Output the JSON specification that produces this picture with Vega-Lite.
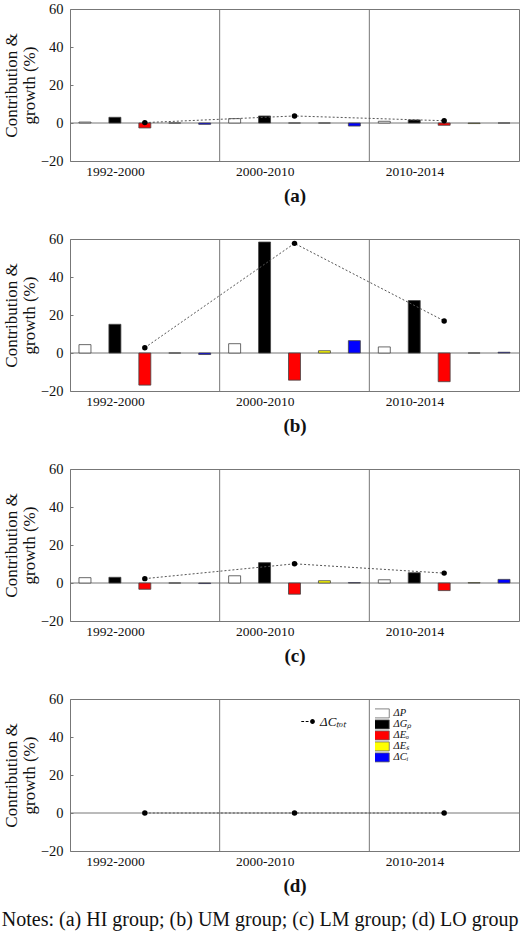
{
  "$schema": "https://vega.github.io/schema/vega-lite/v6.json",
  "padding": {"left": 1, "top": 0, "right": 2, "bottom": 3},
  "background": "white",
  "config": {
    "font": "Liberation Serif",
    "view": {"stroke": "#777", "strokeWidth": 1},
    "axis": {"labelFont": "Liberation Serif", "titleFont": "Liberation Serif", "labelColor": "#111", "titleColor": "#111", "grid": false},
    "title": {"font": "Liberation Serif"},
    "legend": {"labelFont": "Liberation Serif", "titleFont": "Liberation Serif"}
  },
  "datasets": {
    "bars": [
      {"panel": "a", "period": "1992-2000", "comp": "P", "value": 0.5},
      {"panel": "a", "period": "1992-2000", "comp": "Gp", "value": 3.0},
      {"panel": "a", "period": "1992-2000", "comp": "Eo", "value": -2.6},
      {"panel": "a", "period": "1992-2000", "comp": "Es", "value": 0},
      {"panel": "a", "period": "1992-2000", "comp": "Ci", "value": -0.7},
      {"panel": "a", "period": "2000-2010", "comp": "P", "value": 2.3},
      {"panel": "a", "period": "2000-2010", "comp": "Gp", "value": 3.7},
      {"panel": "a", "period": "2000-2010", "comp": "Eo", "value": 0},
      {"panel": "a", "period": "2000-2010", "comp": "Es", "value": 0},
      {"panel": "a", "period": "2000-2010", "comp": "Ci", "value": -1.6},
      {"panel": "a", "period": "2010-2014", "comp": "P", "value": 0.9},
      {"panel": "a", "period": "2010-2014", "comp": "Gp", "value": 1.6},
      {"panel": "a", "period": "2010-2014", "comp": "Eo", "value": -1.2},
      {"panel": "a", "period": "2010-2014", "comp": "Es", "value": -0.3},
      {"panel": "a", "period": "2010-2014", "comp": "Ci", "value": 0},
      {"panel": "b", "period": "1992-2000", "comp": "P", "value": 4.4},
      {"panel": "b", "period": "1992-2000", "comp": "Gp", "value": 15.1},
      {"panel": "b", "period": "1992-2000", "comp": "Eo", "value": -16.9},
      {"panel": "b", "period": "1992-2000", "comp": "Es", "value": 0},
      {"panel": "b", "period": "1992-2000", "comp": "Ci", "value": -0.8},
      {"panel": "b", "period": "2000-2010", "comp": "P", "value": 4.9},
      {"panel": "b", "period": "2000-2010", "comp": "Gp", "value": 58.4},
      {"panel": "b", "period": "2000-2010", "comp": "Eo", "value": -14.3},
      {"panel": "b", "period": "2000-2010", "comp": "Es", "value": 1.2},
      {"panel": "b", "period": "2000-2010", "comp": "Ci", "value": 6.5},
      {"panel": "b", "period": "2010-2014", "comp": "P", "value": 3.2},
      {"panel": "b", "period": "2010-2014", "comp": "Gp", "value": 27.6},
      {"panel": "b", "period": "2010-2014", "comp": "Eo", "value": -15.1},
      {"panel": "b", "period": "2010-2014", "comp": "Es", "value": 0},
      {"panel": "b", "period": "2010-2014", "comp": "Ci", "value": 0.4},
      {"panel": "c", "period": "1992-2000", "comp": "P", "value": 2.8},
      {"panel": "c", "period": "1992-2000", "comp": "Gp", "value": 3.0},
      {"panel": "c", "period": "1992-2000", "comp": "Eo", "value": -3.3},
      {"panel": "c", "period": "1992-2000", "comp": "Es", "value": 0},
      {"panel": "c", "period": "1992-2000", "comp": "Ci", "value": -0.3},
      {"panel": "c", "period": "2000-2010", "comp": "P", "value": 3.8},
      {"panel": "c", "period": "2000-2010", "comp": "Gp", "value": 10.7},
      {"panel": "c", "period": "2000-2010", "comp": "Eo", "value": -5.9},
      {"panel": "c", "period": "2000-2010", "comp": "Es", "value": 1.2},
      {"panel": "c", "period": "2000-2010", "comp": "Ci", "value": 0.2},
      {"panel": "c", "period": "2010-2014", "comp": "P", "value": 1.7},
      {"panel": "c", "period": "2010-2014", "comp": "Gp", "value": 5.4},
      {"panel": "c", "period": "2010-2014", "comp": "Eo", "value": -4.0},
      {"panel": "c", "period": "2010-2014", "comp": "Es", "value": 0.2},
      {"panel": "c", "period": "2010-2014", "comp": "Ci", "value": 1.9},
      {"panel": "d", "period": "1992-2000", "comp": "P", "value": 0},
      {"panel": "d", "period": "1992-2000", "comp": "Gp", "value": 0},
      {"panel": "d", "period": "1992-2000", "comp": "Eo", "value": 0},
      {"panel": "d", "period": "1992-2000", "comp": "Es", "value": 0},
      {"panel": "d", "period": "1992-2000", "comp": "Ci", "value": 0},
      {"panel": "d", "period": "2000-2010", "comp": "P", "value": 0},
      {"panel": "d", "period": "2000-2010", "comp": "Gp", "value": 0},
      {"panel": "d", "period": "2000-2010", "comp": "Eo", "value": 0},
      {"panel": "d", "period": "2000-2010", "comp": "Es", "value": 0},
      {"panel": "d", "period": "2000-2010", "comp": "Ci", "value": 0},
      {"panel": "d", "period": "2010-2014", "comp": "P", "value": 0},
      {"panel": "d", "period": "2010-2014", "comp": "Gp", "value": 0},
      {"panel": "d", "period": "2010-2014", "comp": "Eo", "value": 0},
      {"panel": "d", "period": "2010-2014", "comp": "Es", "value": 0},
      {"panel": "d", "period": "2010-2014", "comp": "Ci", "value": 0}
    ],
    "tot": [
      {"panel": "a", "period": "1992-2000", "value": 0.2},
      {"panel": "a", "period": "2000-2010", "value": 3.7},
      {"panel": "a", "period": "2010-2014", "value": 1.2},
      {"panel": "b", "period": "1992-2000", "value": 2.8},
      {"panel": "b", "period": "2000-2010", "value": 57.7},
      {"panel": "b", "period": "2010-2014", "value": 16.9},
      {"panel": "c", "period": "1992-2000", "value": 2.3},
      {"panel": "c", "period": "2000-2010", "value": 10.1},
      {"panel": "c", "period": "2010-2014", "value": 5.2},
      {"panel": "d", "period": "1992-2000", "value": 0},
      {"panel": "d", "period": "2000-2010", "value": 0},
      {"panel": "d", "period": "2010-2014", "value": 0}
    ],
    "dividers": [
      {"period": "2000-2010"},
      {"period": "2010-2014"}
    ]
  },
  "title": {"text": "Notes: (a) HI group; (b) UM group; (c) LM group; (d) LO group", "orient": "bottom", "anchor": "start", "fontSize": 20, "fontWeight": "normal", "color": "#111", "offset": 14},
  "spacing": 24,
  "resolve": {"scale": {"fill": "independent", "opacity": "independent"}, "legend": {"fill": "independent", "opacity": "independent"}},
  "vconcat": [
    {
      "width": 449, "height": 152,
      "layer": [
        {"data": {"values": [{}]}, "mark": {"type": "rule", "color": "#777", "strokeWidth": 1}, "encoding": {"y": {"datum": 0, "type": "quantitative"}}},
        {"data": {"name": "dividers"}, "mark": {"type": "rule", "color": "#777", "strokeWidth": 1}, "encoding": {"x": {"field": "period", "type": "nominal", "bandPosition": 0}}},
        {"data": {"name": "bars"}, "transform": [{"filter": "datum.panel === 'a'"}],
         "mark": {"type": "bar", "stroke": "#444", "strokeWidth": 0.8},
         "encoding": {
           "x": {"field": "period", "type": "nominal", "scale": {"paddingInner": 0, "paddingOuter": 0}, "axis": {"title": "(a)", "bandPosition": 0.5, "labelAngle": 0, "ticks": false, "domain": false, "labelFontSize": 13.5, "labelPadding": 10, "titleFontSize": 19, "titleFontWeight": "bold", "titlePadding": 9}},
           "xOffset": {"field": "comp", "type": "nominal", "sort": ["P", "Gp", "Eo", "Es", "Ci"], "scale": {"domain": ["P", "Gp", "Eo", "Es", "Ci"], "paddingInner": 0.6, "paddingOuter": 0.3}},
           "y": {"field": "value", "type": "quantitative", "scale": {"domain": [-20, 60], "nice": false, "zero": false}, "axis": {"tickCount": 4, "labelOverlap": false, "title": ["Contribution &", "growth (%)"], "titleFontSize": 17, "titleFontWeight": "normal", "titleLineHeight": 18, "titlePadding": 2, "labelFontSize": 14.5, "domain": false, "tickSize": -3, "tickColor": "#777", "labelPadding": 10}},
           "fill": {"field": "comp", "type": "nominal", "scale": {"domain": ["P", "Gp", "Eo", "Es", "Ci"], "range": ["#ffffff", "#000000", "#ff0000", "#ffff00", "#0000ff"]}, "legend": null}
         }},
        {"data": {"name": "tot"}, "transform": [{"filter": "datum.panel === 'a'"}], "mark": {"type": "line", "color": "#555", "strokeWidth": 1, "strokeDash": [2, 2]}, "encoding": {"x": {"field": "period", "type": "nominal"}, "y": {"field": "value", "type": "quantitative"}}},
        {"data": {"name": "tot"}, "transform": [{"filter": "datum.panel === 'a'"}], "mark": {"type": "point", "filled": true, "color": "#000", "size": 30, "opacity": 1}, "encoding": {"x": {"field": "period", "type": "nominal"}, "y": {"field": "value", "type": "quantitative"}}}
      ]
    },
    {
      "width": 449, "height": 152,
      "layer": [
        {"data": {"values": [{}]}, "mark": {"type": "rule", "color": "#777", "strokeWidth": 1}, "encoding": {"y": {"datum": 0, "type": "quantitative"}}},
        {"data": {"name": "dividers"}, "mark": {"type": "rule", "color": "#777", "strokeWidth": 1}, "encoding": {"x": {"field": "period", "type": "nominal", "bandPosition": 0}}},
        {"data": {"name": "bars"}, "transform": [{"filter": "datum.panel === 'b'"}],
         "mark": {"type": "bar", "stroke": "#444", "strokeWidth": 0.8},
         "encoding": {
           "x": {"field": "period", "type": "nominal", "scale": {"paddingInner": 0, "paddingOuter": 0}, "axis": {"title": "(b)", "bandPosition": 0.5, "labelAngle": 0, "ticks": false, "domain": false, "labelFontSize": 13.5, "labelPadding": 10, "titleFontSize": 19, "titleFontWeight": "bold", "titlePadding": 9}},
           "xOffset": {"field": "comp", "type": "nominal", "sort": ["P", "Gp", "Eo", "Es", "Ci"], "scale": {"domain": ["P", "Gp", "Eo", "Es", "Ci"], "paddingInner": 0.6, "paddingOuter": 0.3}},
           "y": {"field": "value", "type": "quantitative", "scale": {"domain": [-20, 60], "nice": false, "zero": false}, "axis": {"tickCount": 4, "labelOverlap": false, "title": ["Contribution &", "growth (%)"], "titleFontSize": 17, "titleFontWeight": "normal", "titleLineHeight": 18, "titlePadding": 2, "labelFontSize": 14.5, "domain": false, "tickSize": -3, "tickColor": "#777", "labelPadding": 10}},
           "fill": {"field": "comp", "type": "nominal", "scale": {"domain": ["P", "Gp", "Eo", "Es", "Ci"], "range": ["#ffffff", "#000000", "#ff0000", "#ffff00", "#0000ff"]}, "legend": null}
         }},
        {"data": {"name": "tot"}, "transform": [{"filter": "datum.panel === 'b'"}], "mark": {"type": "line", "color": "#555", "strokeWidth": 1, "strokeDash": [2, 2]}, "encoding": {"x": {"field": "period", "type": "nominal"}, "y": {"field": "value", "type": "quantitative"}}},
        {"data": {"name": "tot"}, "transform": [{"filter": "datum.panel === 'b'"}], "mark": {"type": "point", "filled": true, "color": "#000", "size": 30, "opacity": 1}, "encoding": {"x": {"field": "period", "type": "nominal"}, "y": {"field": "value", "type": "quantitative"}}}
      ]
    },
    {
      "width": 449, "height": 152,
      "layer": [
        {"data": {"values": [{}]}, "mark": {"type": "rule", "color": "#777", "strokeWidth": 1}, "encoding": {"y": {"datum": 0, "type": "quantitative"}}},
        {"data": {"name": "dividers"}, "mark": {"type": "rule", "color": "#777", "strokeWidth": 1}, "encoding": {"x": {"field": "period", "type": "nominal", "bandPosition": 0}}},
        {"data": {"name": "bars"}, "transform": [{"filter": "datum.panel === 'c'"}],
         "mark": {"type": "bar", "stroke": "#444", "strokeWidth": 0.8},
         "encoding": {
           "x": {"field": "period", "type": "nominal", "scale": {"paddingInner": 0, "paddingOuter": 0}, "axis": {"title": "(c)", "bandPosition": 0.5, "labelAngle": 0, "ticks": false, "domain": false, "labelFontSize": 13.5, "labelPadding": 10, "titleFontSize": 19, "titleFontWeight": "bold", "titlePadding": 9}},
           "xOffset": {"field": "comp", "type": "nominal", "sort": ["P", "Gp", "Eo", "Es", "Ci"], "scale": {"domain": ["P", "Gp", "Eo", "Es", "Ci"], "paddingInner": 0.6, "paddingOuter": 0.3}},
           "y": {"field": "value", "type": "quantitative", "scale": {"domain": [-20, 60], "nice": false, "zero": false}, "axis": {"tickCount": 4, "labelOverlap": false, "title": ["Contribution &", "growth (%)"], "titleFontSize": 17, "titleFontWeight": "normal", "titleLineHeight": 18, "titlePadding": 2, "labelFontSize": 14.5, "domain": false, "tickSize": -3, "tickColor": "#777", "labelPadding": 10}},
           "fill": {"field": "comp", "type": "nominal", "scale": {"domain": ["P", "Gp", "Eo", "Es", "Ci"], "range": ["#ffffff", "#000000", "#ff0000", "#ffff00", "#0000ff"]}, "legend": null}
         }},
        {"data": {"name": "tot"}, "transform": [{"filter": "datum.panel === 'c'"}], "mark": {"type": "line", "color": "#555", "strokeWidth": 1, "strokeDash": [2, 2]}, "encoding": {"x": {"field": "period", "type": "nominal"}, "y": {"field": "value", "type": "quantitative"}}},
        {"data": {"name": "tot"}, "transform": [{"filter": "datum.panel === 'c'"}], "mark": {"type": "point", "filled": true, "color": "#000", "size": 30, "opacity": 1}, "encoding": {"x": {"field": "period", "type": "nominal"}, "y": {"field": "value", "type": "quantitative"}}}
      ]
    },
    {
      "width": 449, "height": 152,
      "layer": [
        {"data": {"values": [{}]}, "mark": {"type": "rule", "color": "#777", "strokeWidth": 1}, "encoding": {"y": {"datum": 0, "type": "quantitative"}}},
        {"data": {"name": "dividers"}, "mark": {"type": "rule", "color": "#777", "strokeWidth": 1}, "encoding": {"x": {"field": "period", "type": "nominal", "bandPosition": 0}}},
        {"data": {"name": "bars"}, "transform": [{"filter": "datum.panel === 'd'"}],
         "mark": {"type": "bar", "stroke": "#444", "strokeWidth": 0},
         "encoding": {
           "x": {"field": "period", "type": "nominal", "scale": {"paddingInner": 0, "paddingOuter": 0}, "axis": {"title": "(d)", "bandPosition": 0.5, "labelAngle": 0, "ticks": false, "domain": false, "labelFontSize": 13.5, "labelPadding": 10, "titleFontSize": 19, "titleFontWeight": "bold", "titlePadding": 9}},
           "xOffset": {"field": "comp", "type": "nominal", "sort": ["P", "Gp", "Eo", "Es", "Ci"], "scale": {"domain": ["P", "Gp", "Eo", "Es", "Ci"], "paddingInner": 0.6, "paddingOuter": 0.3}},
           "y": {"field": "value", "type": "quantitative", "scale": {"domain": [-20, 60], "nice": false, "zero": false}, "axis": {"tickCount": 4, "labelOverlap": false, "title": ["Contribution &", "growth (%)"], "titleFontSize": 17, "titleFontWeight": "normal", "titleLineHeight": 18, "titlePadding": 2, "labelFontSize": 14.5, "domain": false, "tickSize": -3, "tickColor": "#777", "labelPadding": 10}},
           "fill": {"field": "comp", "type": "nominal", "scale": {"domain": ["P", "Gp", "Eo", "Es", "Ci"], "range": ["#ffffff", "#000000", "#ff0000", "#ffff00", "#0000ff"]},
             "legend": {"orient": "none", "legendX": 305, "legendY": 9, "padding": 0, "title": null, "symbolType": "M-2,-1H2V1H-2Z", "symbolSize": 81, "symbolStrokeColor": "#666", "symbolStrokeWidth": 0.8, "labelFontSize": 10.5, "labelFontStyle": "italic", "labelColor": "#111", "labelOffset": 8, "rowPadding": 0, "clipHeight": 10.8,
               "labelExpr": "{'P': 'ΔP', 'Gp': 'ΔGₚ', 'Eo': 'ΔEₒ', 'Es': 'ΔEₛ', 'Ci': 'ΔCᵢ'}[datum.value]"}}
         }},
        {"data": {"name": "tot"}, "transform": [{"filter": "datum.panel === 'd'"}], "mark": {"type": "line", "color": "#555", "strokeWidth": 1, "strokeDash": [2, 2]}, "encoding": {"x": {"field": "period", "type": "nominal"}, "y": {"field": "value", "type": "quantitative"}}},
        {"data": {"name": "tot"}, "transform": [{"filter": "datum.panel === 'd'"}], "mark": {"type": "point", "filled": true, "color": "#000", "size": 30},
         "encoding": {"x": {"field": "period", "type": "nominal"}, "y": {"field": "value", "type": "quantitative"},
           "opacity": {"datum": "ΔCₜₒₜ", "type": "ordinal", "scale": {"range": [1]},
             "legend": {"orient": "none", "legendX": 232, "legendY": 16, "padding": 0, "title": null, "symbolType": "M-1.8,-0.12H-1.1V0.12H-1.8Z M-0.7,-0.12H0V0.12H-0.7Z M0.4,0A0.6,0.6 0 1,0 1.6,0A0.6,0.6 0 1,0 0.4,0Z", "symbolSize": 64, "symbolFillColor": "#000", "symbolStrokeWidth": 0, "labelFontSize": 13, "labelFontStyle": "italic", "labelColor": "#111", "labelOffset": 5}}}}
      ]
    }
  ]
}
